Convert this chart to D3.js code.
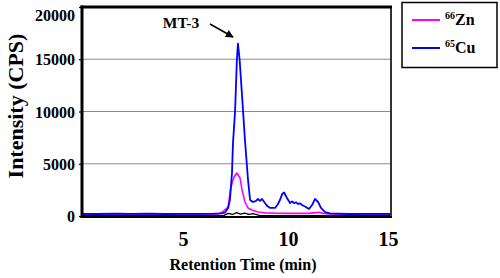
<!DOCTYPE html>
<html>
<head>
<meta charset="utf-8">
<script src="https://cdn.jsdelivr.net/npm/d3@7"></script>
<style>
  body { margin: 0; background: #fff; }
  svg { display: block; }
</style>
</head>
<body>
<div id="chart"></div>
<script>
// retention time (min) and intensity (CPS)
var cuTime  = [0, 0.8, 1.6, 2.4, 3.2, 4, 4.8, 5.6, 6.4, 6.8, 6.95, 7.1, 7.18, 7.28, 7.33, 7.43, 7.52, 7.57, 7.65, 7.82, 7.91, 8.06, 8.16, 8.3, 8.45, 8.54, 8.64, 8.74, 8.88, 9.0, 9.13, 9.37, 9.5, 9.61, 9.72, 9.81, 9.95, 10.1, 10.2, 10.29, 10.4, 10.49, 10.6, 10.68, 10.87, 11.02, 11.17, 11.31, 11.46, 11.6, 11.8, 12.04, 12.4, 13, 13.8, 14.5, 15];
var cuValue = [210, 190, 230, 200, 220, 190, 210, 200, 220, 250, 350, 800, 1530, 4100, 7000, 10000, 15000, 16500, 15000, 10000, 7270, 3440, 1530, 1340, 1450, 1630, 1450, 1630, 1240, 950, 770, 770, 1100, 1530, 2100, 2250, 1720, 1240, 1400, 1240, 1300, 1150, 1200, 1050, 860, 670, 1050, 1630, 1340, 770, 380, 250, 220, 190, 210, 200, 210];

var znTime  = [0, 1, 2, 3, 4, 5, 6, 6.6, 6.8, 7.09, 7.23, 7.38, 7.52, 7.67, 7.77, 7.91, 8.06, 8.25, 8.54, 8.88, 9.5, 10, 11, 11.5, 11.7, 12, 13, 14, 15];
var znValue = [150, 170, 150, 160, 150, 170, 150, 200, 350, 860, 2780, 3730, 4110, 3640, 2490, 1340, 770, 570, 380, 300, 260, 250, 250, 350, 250, 200, 160, 150, 150];

var bgTime  = [0, 2, 4, 6, 6.9, 7.1, 7.3, 7.5, 7.7, 7.9, 8.1, 8.3, 8.6, 10, 12, 15];
var bgValue = [30, 40, 30, 40, 60, 250, 150, 320, 180, 280, 150, 220, 60, 40, 30, 30];

var yTicks = [0, 5000, 10000, 15000, 20000];
var xTicks = [5, 10, 15];

var legendLabels = [
  {iso: "66", el: "Zn", color: "#ff00ff"},
  {iso: "65", el: "Cu", color: "#0000ff"}
];

var serif = "'Liberation Serif'";

var margin = {top: 7, right: 109, bottom: 62, left: 82},
    width = 500 - margin.left - margin.right,
    height = 278 - margin.top - margin.bottom;

var svg = d3.select("#chart")
  .append("svg")
    .attr("width", 500)
    .attr("height", 278);

var g = svg.append("g")
    .attr("transform", "translate(" + margin.left + "," + margin.top + ")");

var x = d3.scaleLinear().domain([0, 15]).range([0, width]);
var y = d3.scaleLinear().domain([0, 20000]).range([height, 0]);

// grid lines
g.selectAll(".grid")
  .data(yTicks.filter(function(d) { return d > 0 && d < 20000; }))
  .enter()
  .append("line")
    .attr("x1", 0)
    .attr("x2", width)
    .attr("y1", function(d) { return y(d); })
    .attr("y2", function(d) { return y(d); })
    .attr("stroke", "#8c8c8c")
    .attr("stroke-width", 1.2);

// y axis labels + small ticks
var yAxis = g.append("g")
  .call(d3.axisLeft(y).tickValues(yTicks).tickFormat(d3.format("d")).tickSize(3).tickPadding(4));
yAxis.attr("font-family", null);
yAxis.select(".domain").remove();
yAxis.selectAll("line").attr("stroke", "#000").attr("stroke-width", 1.2);
yAxis.selectAll("text")
  .style("font-family", serif)
  .style("font-size", "16px")
  .style("font-weight", "bold")
  .attr("fill", "#000")
  .attr("dy", function(d) { return d == 20000 ? "0.85em" : "0.35em"; });

// x axis labels
var xAxis = g.append("g")
  .attr("transform", "translate(0," + height + ")")
  .call(d3.axisBottom(x).tickValues(xTicks).tickSize(0).tickPadding(16));
xAxis.attr("font-family", null);
xAxis.select(".domain").remove();
xAxis.selectAll("text")
  .style("font-family", serif)
  .style("font-size", "20px")
  .style("font-weight", "bold")
  .attr("fill", "#000")
  .attr("dx", function(d) { return d == 15 ? "-3" : (d == 5 ? "-2" : "0"); });

// traces
g.append("clipPath").attr("id", "clip")
  .append("rect").attr("width", width).attr("height", height);

var line = d3.line()
  .x(function(d) { return x(d[0]); })
  .y(function(d) { return y(d[1]); });

var traces = [
  {t: znTime, v: znValue, color: "#ff00ff", w: 1.6},
  {t: cuTime, v: cuValue, color: "#0000ff", w: 1.8},
  {t: bgTime, v: bgValue, color: "#000000", w: 1.2}
];
traces.forEach(function(s) {
  g.append("path")
    .datum(d3.zip(s.t, s.v))
    .attr("clip-path", "url(#clip)")
    .attr("fill", "none")
    .attr("stroke", s.color)
    .attr("stroke-width", s.w)
    .attr("stroke-linejoin", "round")
    .attr("d", line);
});

// frame
g.append("line").attr("x1", width).attr("x2", width).attr("y1", 0).attr("y2", height)
  .attr("stroke", "#333").attr("stroke-width", 2);
g.append("line").attr("x1", -1.5).attr("x2", width + 1).attr("y1", 0).attr("y2", 0)
  .attr("stroke", "#000").attr("stroke-width", 3);
g.append("line").attr("x1", 0).attr("x2", 0).attr("y1", -1.5).attr("y2", height + 1.5)
  .attr("stroke", "#000").attr("stroke-width", 3);
g.append("line").attr("x1", -1.5).attr("x2", width + 1).attr("y1", height + 1).attr("y2", height + 1)
  .attr("stroke", "#000").attr("stroke-width", 2);

// axis titles
svg.append("text")
  .attr("transform", "translate(23,106) rotate(-90)")
  .attr("text-anchor", "middle")
  .style("font-family", serif)
  .style("font-size", "22px")
  .style("font-weight", "bold")
  .text("Intensity (CPS)");

svg.append("text")
  .attr("x", 243)
  .attr("y", 270)
  .attr("text-anchor", "middle")
  .style("font-family", serif)
  .style("font-size", "16px")
  .style("font-weight", "bold")
  .text("Retention Time (min)");

// MT-3 annotation
svg.append("defs").append("marker")
  .attr("id", "arrow")
  .attr("viewBox", "0 0 10 10")
  .attr("refX", 9).attr("refY", 5)
  .attr("markerWidth", 5).attr("markerHeight", 5)
  .attr("markerUnits", "strokeWidth")
  .attr("orient", "auto")
  .append("path").attr("d", "M0,0 L10,5 L0,10 z").attr("fill", "#000");

svg.append("text")
  .attr("x", 181)
  .attr("y", 28)
  .attr("text-anchor", "middle")
  .style("font-family", serif)
  .style("font-size", "15.5px")
  .style("font-weight", "bold")
  .text("MT-3");

svg.append("line")
  .attr("x1", 210).attr("y1", 24)
  .attr("x2", 233).attr("y2", 37)
  .attr("stroke", "#000").attr("stroke-width", 1.6)
  .attr("marker-end", "url(#arrow)");

// legend
var lg = svg.append("g");
lg.append("rect")
  .attr("x", 402).attr("y", 2.5)
  .attr("width", 95).attr("height", 65)
  .attr("fill", "#fff").attr("stroke", "#000").attr("stroke-width", 1.5);

var items = lg.selectAll(".item")
  .data(legendLabels)
  .enter().append("g")
    .attr("transform", function(d, i) { return "translate(0," + (20 + i * 28) + ")"; });
items.append("line")
  .attr("x1", 412).attr("x2", 440)
  .attr("stroke", function(d) { return d.color; })
  .attr("stroke-width", 2);
var lt = items.append("text")
  .attr("x", 445).attr("y", 5)
  .style("font-family", serif)
  .style("font-size", "16px")
  .style("font-weight", "bold");
lt.append("tspan")
  .attr("dy", -6)
  .style("font-size", "10px")
  .text(function(d) { return d.iso; });
lt.append("tspan")
  .attr("dy", 6)
  .text(function(d) { return d.el; });
</script>
</body>
</html>
